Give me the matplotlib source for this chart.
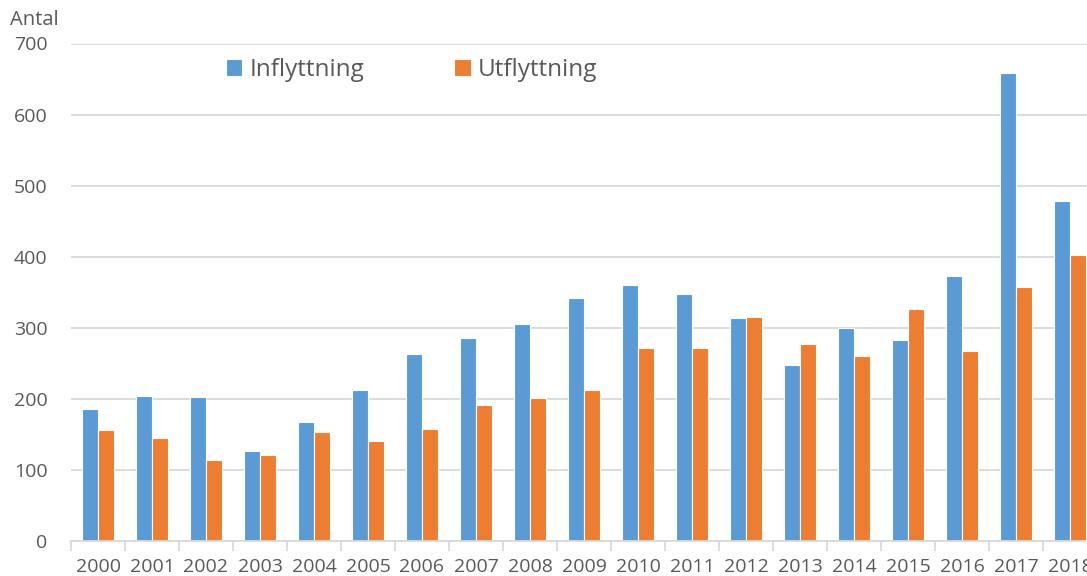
import matplotlib
matplotlib.use("Agg")
import matplotlib.pyplot as plt
import numpy as np

years = [str(y) for y in range(2000, 2019)]
inflyttning = [186, 204, 203, 127, 167, 212, 263, 286, 306, 342, 360, 347, 314, 247, 299, 283, 373, 659, 478]
utflyttning = [156, 145, 114, 121, 153, 141, 158, 192, 201, 213, 271, 272, 315, 277, 260, 326, 267, 358, 403]
series_names = ["Inflyttning", "Utflyttning"]
colors = ["#5B9BD5", "#ED7D31"]
y_ticks = [0, 100, 200, 300, 400, 500, 600, 700]

plt.rcParams['font.family'] = ['Open Sans', 'DejaVu Sans']
text_color = "#595959"
grid_color = "#D9D9D9"

W, H = 1087, 576
fig = plt.figure(figsize=(W / 100, H / 100), dpi=100)
ax = fig.add_axes([71 / W, 1 - 541 / H, (1097 - 71) / W, (541 - 43.5) / H])

x = np.arange(len(years))
bw = 0.29
off = 0.152
ax.bar(x - off, inflyttning, bw, color=colors[0], edgecolor="white", linewidth=0.8, label=series_names[0], zorder=3)
ax.bar(x + off, utflyttning, bw, color=colors[1], edgecolor="white", linewidth=0.8, label=series_names[1], zorder=3)

ax.set_xlim(-0.5, len(years) - 0.5)
ax.set_ylim(0, 700)
ax.set_yticks(y_ticks)
ax.yaxis.grid(True, color=grid_color, linewidth=1.3, zorder=0)
ax.set_axisbelow(True)

ax.set_xticks(x)
ax.set_xticklabels(years)
ax.set_xticks(np.arange(-0.5, len(years) + 0.5, 1), minor=True)
ax.tick_params(axis='x', which='major', length=0, pad=12, labelsize=14, labelcolor=text_color)
ax.tick_params(axis='x', which='minor', length=7, width=1.3, color=grid_color)
ax.tick_params(axis='y', length=0, pad=17, labelsize=14, labelcolor=text_color)

for s in ["top", "right", "left"]:
    ax.spines[s].set_visible(False)
ax.spines["bottom"].set_color(grid_color)
ax.spines["bottom"].set_linewidth(1.3)
ax.spines["bottom"].set_zorder(4)

fig.text(10 / W, 1 - 20 / H, "Antal", fontsize=14.5, color=text_color, va="center", ha="left")

leg = fig.legend(loc="center left", bbox_to_anchor=(204 / W, 1 - 70 / H), ncol=2,
                 frameon=False, fontsize=17.5, labelcolor=text_color,
                 handlelength=0.68, handleheight=0.68, handletextpad=0.3, columnspacing=3.7)

fig.savefig("out.png", dpi=100)
